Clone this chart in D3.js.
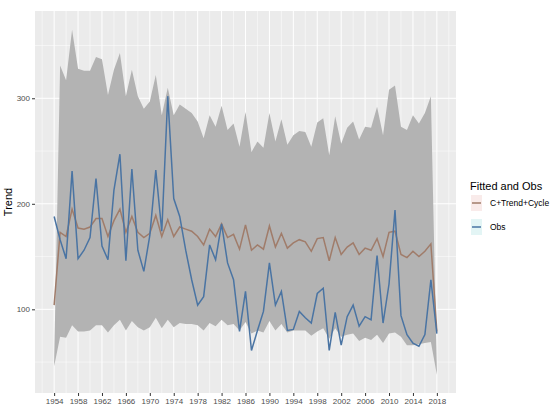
<!DOCTYPE html>
<html>
<head>
<meta charset="utf-8">
<script src="https://cdn.jsdelivr.net/npm/d3@7"></script>
<style>
  body { margin: 0; background: #fff; }
  text { font-family: "Liberation Sans", Arial, sans-serif; }
</style>
</head>
<body>
<svg id="chart"></svg>
<script>
const years = d3.range(1954, 2019);

const obs = [188, 166, 148, 231, 148, 156, 168, 224, 160, 147,
             213, 247, 146, 233, 156, 136, 170, 232, 174, 302,
             205, 188, 156, 128, 104, 112, 161, 147, 181, 144,
             128, 79, 117, 61, 80, 98, 144, 104, 117, 80,
             81, 98, 92, 87, 115, 120, 61, 97, 66, 93,
             104, 84, 93, 90, 151, 87, 124, 194, 94, 76,
             68, 65, 76, 128, 77];

const fitted = [104, 173, 169, 195, 177, 176, 178, 186, 186, 169,
                184, 195, 173, 188, 173, 168, 172, 189, 169, 185,
                169, 178, 176, 174, 169, 161, 176, 169, 181, 168,
                171, 157, 180, 156, 161, 157, 179, 159, 172, 158,
                163, 166, 164, 155, 167, 168, 146, 168, 152, 159,
                163, 152, 158, 156, 167, 150, 173, 174, 152, 149,
                155, 150, 155, 162, 79];

const upper = [50, 331, 317, 365, 328, 326, 326, 339, 337, 303,
               327, 343, 302, 327, 302, 290, 297, 322, 284, 310,
               284, 294, 290, 286, 278, 262, 284, 273, 293, 270,
               276, 254, 287, 249, 259, 253, 286, 259, 280, 256,
               265, 269, 268, 254, 277, 281, 246, 283, 257, 272,
               278, 261, 273, 272, 292, 265, 308, 312, 273, 270,
               284, 276, 286, 302, 42];

const lower = [46, 74, 73, 85, 79, 79, 80, 85, 85, 78,
               85, 90, 80, 89, 83, 80, 83, 92, 82, 90,
               83, 87, 86, 86, 85, 80, 87, 84, 90, 85,
               86, 80, 88, 77, 80, 78, 89, 80, 86, 78,
               80, 80, 80, 75, 79, 82, 72, 82, 74, 76,
               77, 70, 73, 71, 76, 68, 77, 78, 74, 66,
               66, 67, 68, 69, 38];

const xBreaks = d3.range(1954, 2019, 4);
const xMinor = d3.range(1952, 2021, 4);
const yBreaks = [100, 200, 300];
const yMinor = [50, 150, 250, 350];

const seriesNames = ["C+Trend+Cycle", "Obs"];
const lineColors = ["#a07c6a", "#4a74a3"];
const keyFills = ["#f9ebea", "#e3f5f5"];

const W = 550, H = 410;
const panel = { left: 35, right: 456, top: 11, bottom: 393 };

const svg = d3.select("#chart").attr("width", W).attr("height", H);

const x = d3.scaleLinear()
  .domain([1954 - 3.2, 2018 + 3.2])
  .range([panel.left, panel.right]);

const y = d3.scaleLinear()
  .domain([20.7, 382.7])
  .range([panel.bottom, panel.top]);

// panel background
svg.append("rect")
  .attr("x", panel.left).attr("y", panel.top)
  .attr("width", panel.right - panel.left)
  .attr("height", panel.bottom - panel.top)
  .attr("fill", "#ebebeb");

const grid = svg.append("g");
grid.selectAll("line.xmin").data(xMinor).join("line")
  .attr("x1", d => x(d)).attr("x2", d => x(d))
  .attr("y1", panel.top).attr("y2", panel.bottom)
  .attr("stroke", "#fff").attr("stroke-width", 0.5);
grid.selectAll("line.ymin").data(yMinor).join("line")
  .attr("y1", d => y(d)).attr("y2", d => y(d))
  .attr("x1", panel.left).attr("x2", panel.right)
  .attr("stroke", "#fff").attr("stroke-width", 0.5);
grid.selectAll("line.xmaj").data(xBreaks).join("line")
  .attr("x1", d => x(d)).attr("x2", d => x(d))
  .attr("y1", panel.top).attr("y2", panel.bottom)
  .attr("stroke", "#fff").attr("stroke-width", 1);
grid.selectAll("line.ymaj").data(yBreaks).join("line")
  .attr("y1", d => y(d)).attr("y2", d => y(d))
  .attr("x1", panel.left).attr("x2", panel.right)
  .attr("stroke", "#fff").attr("stroke-width", 1);

// ribbon
const rows = years.map((yr, i) => ({ yr, lo: lower[i], hi: upper[i], fit: fitted[i], obs: obs[i] }));

svg.append("path")
  .datum(rows)
  .attr("fill", "#b3b3b3")
  .attr("d", d3.area().x(d => x(d.yr)).y0(d => y(d.lo)).y1(d => y(d.hi)));

// lines
svg.append("path")
  .datum(rows)
  .attr("fill", "none")
  .attr("stroke", lineColors[0])
  .attr("stroke-width", 1.5)
  .attr("d", d3.line().x(d => x(d.yr)).y(d => y(d.fit)));

svg.append("path")
  .datum(rows)
  .attr("fill", "none")
  .attr("stroke", lineColors[1])
  .attr("stroke-width", 1.5)
  .attr("d", d3.line().x(d => x(d.yr)).y(d => y(d.obs)));

// axes
const xAxis = svg.append("g")
  .attr("transform", `translate(0,${panel.bottom})`)
  .call(d3.axisBottom(x).tickValues(xBreaks).tickFormat(d3.format("d")).tickSize(3).tickPadding(2));
xAxis.select(".domain").remove();
xAxis.selectAll("line").attr("stroke", "#333");
xAxis.selectAll("text").attr("fill", "#4d4d4d").style("font-size", "8px");

const yAxis = svg.append("g")
  .attr("transform", `translate(${panel.left},0)`)
  .call(d3.axisLeft(y).tickValues(yBreaks).tickSize(3).tickPadding(2));
yAxis.select(".domain").remove();
yAxis.selectAll("line").attr("stroke", "#333");
yAxis.selectAll("text").attr("fill", "#4d4d4d").style("font-size", "8px");

svg.append("text")
  .attr("transform", `translate(12,${(panel.top + panel.bottom) / 2}) rotate(-90)`)
  .attr("text-anchor", "middle")
  .style("font-size", "11px")
  .text("Trend");

// legend
const legend = svg.append("g").attr("transform", "translate(470,0)");
legend.append("text")
  .attr("x", 0).attr("y", 190)
  .style("font-size", "11px")
  .text("Fitted and Obs");

seriesNames.forEach((name, i) => {
  const cy = 203 + i * 24;
  legend.append("rect")
    .attr("x", 1).attr("y", cy - 8)
    .attr("width", 11).attr("height", 16)
    .attr("fill", keyFills[i]);
  legend.append("line")
    .attr("x1", 2).attr("x2", 11)
    .attr("y1", cy).attr("y2", cy)
    .attr("stroke", lineColors[i]).attr("stroke-width", 1.5);
  legend.append("text")
    .attr("x", 20).attr("y", cy)
    .attr("dy", "0.35em")
    .style("font-size", "8.5px")
    .text(name);
});
</script>
</body>
</html>
